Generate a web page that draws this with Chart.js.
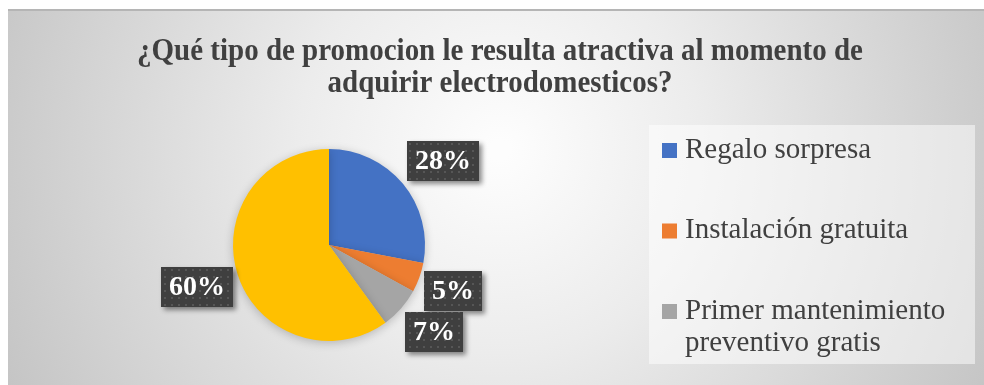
<!DOCTYPE html>
<html>
<head>
<meta charset="utf-8">
<script src="https://cdn.jsdelivr.net/npm/chart.js@4.4.1/dist/chart.umd.min.js"></script>
<style>
  html, body { margin: 0; padding: 0; background: #ffffff; }
  #wrap { position: relative; width: 984px; height: 385px; }
  canvas { display: block; }
</style>
</head>
<body>
<div id="wrap"><canvas id="chart" width="984" height="385"></canvas></div>
<script>
// Survey answers (share of respondents, %)
const titleLines = ['¿Qué tipo de promocion le resulta atractiva al momento de', 'adquirir electrodomesticos?'];
const categories = ['Regalo sorpresa', 'Instalación gratuita', 'Primer mantenimiento preventivo gratis', 'Otros'];
const legendLines = [['Regalo sorpresa'], ['Instalación gratuita'], ['Primer mantenimiento', 'preventivo gratis']];
const shares = [28, 5, 7, 60];
const sliceColors = ['#4472C4', '#ED7D31', '#A5A5A5', '#FFC000'];

const SERIF = '"Liberation Serif", "Times New Roman", serif';

// Draw text slightly narrowed horizontally
function narrowText(ctx, text, x, y, sx) {
  ctx.save();
  ctx.translate(x, y);
  ctx.scale(sx, 1);
  ctx.fillText(text, 0, 0);
  ctx.restore();
}

// Small dotted texture for the dark value tags
function makeDotPattern(ctx) {
  const c = document.createElement('canvas');
  c.width = 7; c.height = 7;
  const g = c.getContext('2d');
  g.fillStyle = '#3f3f3f';
  g.fillRect(0, 0, 7, 7);
  g.fillStyle = '#565656';
  g.fillRect(3, 3, 2, 2);
  return ctx.createPattern(c, 'repeat');
}

// Gradient backdrop, border line, title and legend panel
const backdrop = {
  id: 'backdrop',
  beforeDraw(chart) {
    const ctx = chart.ctx;
    const W = chart.width, H = chart.height;
    ctx.save();
    ctx.fillStyle = '#ffffff';
    ctx.fillRect(0, 0, W, H);
    const g = ctx.createRadialGradient(500, 150, 10, 500, 150, 560);
    g.addColorStop(0, '#fdfdfd');
    g.addColorStop(0.35, '#ececec');
    g.addColorStop(1, '#c3c3c3');
    ctx.fillStyle = g;
    ctx.fillRect(8, 9, W - 8, H - 9);
    ctx.fillStyle = '#b5b5b5';
    ctx.fillRect(8, 9, W - 8, 2);

    // title
    ctx.fillStyle = '#404040';
    ctx.font = 'bold 31px ' + SERIF;
    ctx.textAlign = 'center';
    ctx.textBaseline = 'middle';
    titleLines.forEach((t, i) => narrowText(ctx, t, 500, 52 + i * 32, 0.935));

    // legend panel
    ctx.fillStyle = 'rgba(255,255,255,0.5)';
    ctx.fillRect(649, 125, 326, 239);
    ctx.restore();
  },
  afterDraw(chart) {
    const ctx = chart.ctx;
    const meta = chart.getDatasetMeta(0);
    ctx.save();
    // legend entries
    ctx.font = '30px ' + SERIF;
    ctx.textAlign = 'left';
    ctx.textBaseline = 'middle';
    legendLines.forEach((lines, i) => {
      const y = 150 + i * 80.5;
      ctx.fillStyle = sliceColors[i];
      ctx.fillRect(662, y - 7, 15, 15);
      ctx.fillStyle = '#404040';
      lines.forEach((ln, j) => narrowText(ctx, ln, 685, y + j * 32, 0.967));
    });

    // value tags placed just outside each slice
    const total = shares.reduce((a, b) => a + b, 0);
    const pattern = makeDotPattern(ctx);
    ctx.font = 'bold 28px ' + SERIF;
    meta.data.forEach((arc, i) => {
      const p = arc.getProps(['x', 'y', 'startAngle', 'endAngle', 'outerRadius'], true);
      const mid = (p.startAngle + p.endAngle) / 2;
      const dx = Math.cos(mid), dy = Math.sin(mid);
      const rr = p.outerRadius + 5;
      const ax = p.x + dx * rr, ay = p.y + dy * rr;
      const label = Math.round(shares[i] / total * 100) + '%';
      const w = Math.round(ctx.measureText(label).width) + 16;
      const h = 40;
      const clamp = v => Math.max(-1, Math.min(1, v));
      const cx = ax + (w / 2) * clamp(dx * 1.8);
      const cy = ay + (h / 2) * clamp(dy * 1.8);
      const left = Math.round(cx - w / 2), top = Math.round(cy - h / 2);
      ctx.save();
      ctx.shadowColor = 'rgba(0,0,0,0.45)';
      ctx.shadowBlur = 5;
      ctx.shadowOffsetX = 3;
      ctx.shadowOffsetY = 3;
      ctx.fillStyle = pattern;
      ctx.fillRect(left, top, w, h);
      ctx.restore();
      ctx.fillStyle = '#ffffff';
      ctx.textAlign = 'center';
      ctx.textBaseline = 'middle';
      ctx.fillText(label, left + w / 2, top + h / 2 + 1);
    });
    ctx.restore();
  },
  beforeDatasetsDraw(chart) {
    const ctx = chart.ctx;
    ctx.save();
    ctx.shadowColor = 'rgba(0,0,0,0.22)';
    ctx.shadowBlur = 10;
    ctx.shadowOffsetX = 0;
    ctx.shadowOffsetY = 2;
  },
  afterDatasetsDraw(chart) {
    chart.ctx.restore();
  }
};

new Chart(document.getElementById('chart'), {
  type: 'pie',
  data: {
    labels: categories,
    datasets: [{
      data: shares,
      backgroundColor: sliceColors,
      borderWidth: 0
    }]
  },
  options: {
    responsive: false,
    animation: false,
    layout: { padding: { left: 233, right: 559, top: 149, bottom: 44 } },
    plugins: {
      legend: { display: false },
      title: { display: false },
      tooltip: { enabled: false }
    }
  },
  plugins: [backdrop]
});
</script>
</body>
</html>
